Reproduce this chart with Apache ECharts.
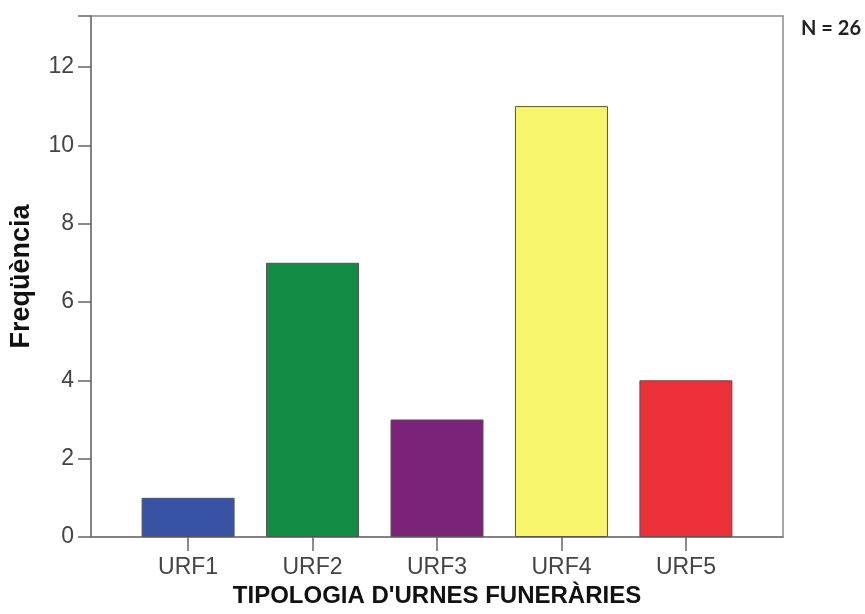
<!DOCTYPE html>
<html>
<head>
<meta charset="utf-8">
<script src="https://cdn.jsdelivr.net/npm/echarts@6/dist/echarts.min.js"></script>
<style>
html, body { margin: 0; padding: 0; background: #fff; }
#main { width: 865px; height: 614px; }
</style>
</head>
<body>
<div id="main"></div>
<script>
// categories and frequencies
var categories = ['URF1', 'URF2', 'URF3', 'URF4', 'URF5'];
var freq = [1, 7, 3, 11, 4];
var barColors = ['#3953a4', '#128c44', '#7a2277', '#f8f56c', '#ec3038'];
var yTicks = [0, 2, 4, 6, 8, 10, 12];
var totalN = 26;

var chart = echarts.init(document.getElementById('main'));

var barData = [];
for (var i = 0; i < categories.length; i++) {
	barData.push({
		value: [i, freq[i]],
		itemStyle: { color: barColors[i] }
	});
}

var option = {
	backgroundColor: '#fff',
	animation: false,
	textStyle: { fontFamily: 'Liberation Sans' },
	grid: {
		left: 91,
		right: 82,
		top: 16,
		bottom: 77,
		show: true,
		borderColor: '#8a8a8a',
		borderWidth: 1.5
	},
	graphic: [{
		type: 'text',
		right: 4,
		top: 19,
		style: {
			text: 'N = ' + totalN,
			font: 'bold 20px Lato',
			fill: '#222'
		}
	}],
	xAxis: {
		type: 'value',
		min: -0.78,
		max: 4.78,
		name: "TIPOLOGIA D'URNES FUNERÀRIES",
		nameLocation: 'middle',
		nameGap: 46,
		nameTextStyle: { fontSize: 24, fontWeight: 'bold', color: '#111' },
		splitLine: { show: false },
		axisLine: { show: true, onZero: false, lineStyle: { color: '#777', width: 1.5 } },
		axisTick: {
			show: true,
			length: 14,
			customValues: [0, 1, 2, 3, 4],
			lineStyle: { color: '#666', width: 1.5 }
		},
		axisLabel: {
			customValues: [0, 1, 2, 3, 4],
			margin: 19,
			fontSize: 23,
			color: '#444',
			formatter: function(v) { return categories[Math.round(v)]; }
		}
	},
	yAxis: {
		type: 'value',
		min: 0,
		max: 13.3,
		interval: 2,
		name: 'Freqüència',
		nameLocation: 'middle',
		nameRotate: 90,
		nameGap: 56,
		nameTextStyle: { fontSize: 27, fontWeight: 'bold', color: '#111' },
		splitLine: { show: false },
		axisLine: { show: true, onZero: false, lineStyle: { color: '#777', width: 1.5 } },
		axisTick: { show: true, length: 13, lineStyle: { color: '#666', width: 1.5 } },
		axisLabel: {
			margin: 17,
			fontSize: 23,
			color: '#444',
			formatter: function(v) { return yTicks.indexOf(v) >= 0 ? String(v) : ''; }
		}
	},
	series: [{
		type: 'bar',
		barWidth: 93,
		itemStyle: { borderColor: '#555', borderWidth: 1 },
		data: barData
	}]
};
chart.setOption(option);
</script>
</body>
</html>
